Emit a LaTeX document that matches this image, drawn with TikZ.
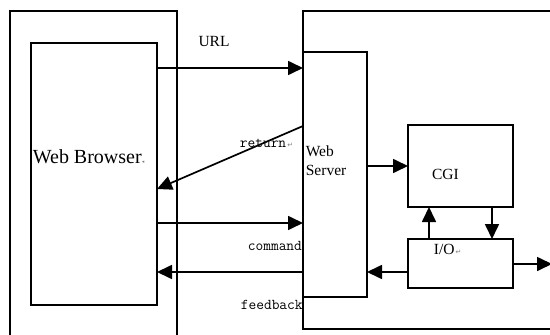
\documentclass[tikz,border=0pt]{standalone}
\usepackage{fontspec}
\setmainfont{Liberation Serif}
\newfontfamily\markfont{DejaVu Sans}
\usetikzlibrary{arrows.meta}
\newcommand{\pmark}{{\markfont\fontsize{7}{7}\selectfont\color{gray}\,↵}}
\begin{document}
\begin{tikzpicture}[x=1pt,y=-1pt,line join=miter,line width=1.7pt,
  >={Triangle[length=15pt,width=14pt]},
  box/.style={draw,inner sep=0pt,outer sep=0pt},
  txt/.style={inner sep=0pt,font=\fontsize{15.5}{19}\selectfont},
  tt/.style={inner sep=0pt,anchor=west,font=\ttfamily\fontsize{15}{17}\selectfont}]
\useasboundingbox (0,0) rectangle (550,335);
% levels of the horizontal links
\path
(0,68) coordinate (urlY)
(0,126) coordinate (retY)
(0,189) coordinate (retY2)
(0,223) coordinate (cmdY)
(0,272) coordinate (fbY)
(0,264) coordinate (outY)
(552,264) coordinate (out)
;
% labels
\node[txt] (url) at (214,41) {URL};
\node[tt] (ret) at (239,143) {return\pmark};
\node[tt] (cmd) at (247,246) {command};
\node[tt] (fb) at (240,305) {feedback};
% outer frames run off the page
\begin{scope}
\clip (0,0) rectangle (550,335);
\draw (10,345) -- (10,11) -- (177,11) -- (177,345);
\draw (560,11) -- (303,11) -- (303,329) -- (560,329);
\end{scope}
% boxes
\node[box,minimum width=126pt,minimum height=262pt] (browser) at (94,174) {};
\node[box,minimum width=64pt,minimum height=245pt] (server) at (335,174.5) {};
\node[box,minimum width=105pt,minimum height=82pt] (cgi) at (460.5,166) {};
\node[box,minimum width=105pt,minimum height=49pt] (io) at (460.5,263.5) {};
\node[txt,anchor=west,font=\fontsize{20}{24}\selectfont] (browsertxt) at (32,157) {Web Browser{\markfont\fontsize{5}{5}\selectfont\color{gray}◂}};
\node[txt,anchor=north west,align=left] (servertxt) at (305,145) {Web\\Server};
\node[txt] (cgitxt) at (445.5,174) {CGI};
\node[txt,anchor=west] (iotxt) at (433,249) {I/O\pmark};
% links
\draw[->] (browser.east |- urlY) -- (server.west |- urlY);
\draw[->] (server.west |- retY) -- (browser.east |- retY2);
\draw[->] (browser.east |- cmdY) -- (server.west |- cmdY);
\draw[->] (server.west |- fbY) -- (browser.east |- fbY);
\draw[->] (server.east |- cgi.west) -- (cgi.west);
\draw[->] (io.north -| 429,0) -- (cgi.south -| 429,0);
\draw[->] (cgi.south -| 492,0) -- (io.north -| 492,0);
\draw[->] (io.west |- fbY) -- (server.east |- fbY);
\draw[->] (io.east |- outY) -- (out);
\end{tikzpicture}
\end{document}
